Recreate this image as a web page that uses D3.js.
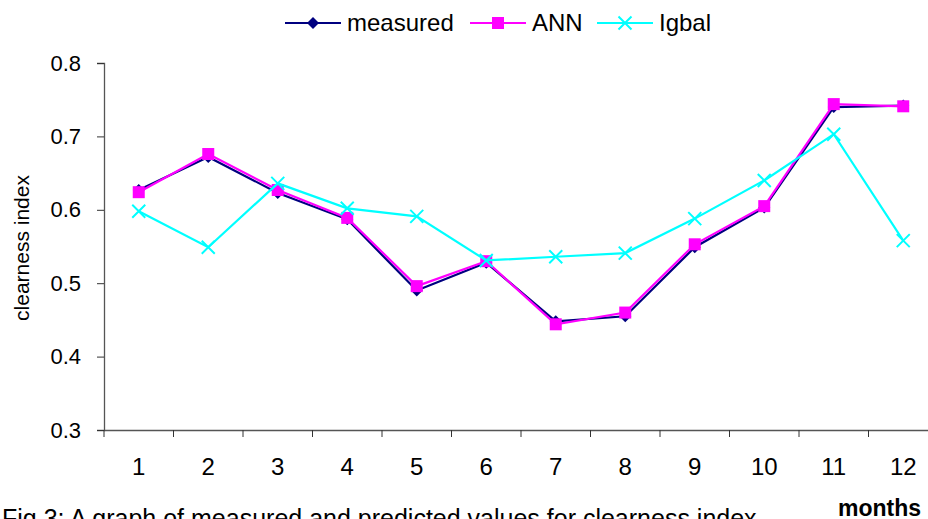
<!DOCTYPE html>
<html>
<head>
<meta charset="utf-8">
<script src="https://cdn.jsdelivr.net/npm/d3@7"></script>
<style>
body { margin: 0; background: #fff; }
svg { font-family: "Liberation Sans", Arial, sans-serif; }
</style>
</head>
<body>
<svg id="chart" width="928" height="519"></svg>
<script>
var months = ["1","2","3","4","5","6","7","8","9","10","11","12"];
var measured = [0.627,0.672,0.623,0.587,0.490,0.528,0.448,0.455,0.549,0.603,0.740,0.742];
var ann = [0.624,0.676,0.627,0.589,0.496,0.530,0.444,0.460,0.553,0.605,0.744,0.741];
var igbal = [0.598,0.549,0.636,0.602,0.591,0.531,0.536,0.541,0.588,0.640,0.703,0.558];
var yTicks = [0.3,0.4,0.5,0.6,0.7,0.8];

var svg = d3.select("#chart");

// plot runs off the right edge, like the original picture
var x = d3.scaleBand().domain(months).range([104, 938]);
var y = d3.scaleLinear().domain([0.3, 0.8]).range([430, 63]);

var series = [
	{name: "measured", values: measured, color: "#000080", shape: "diamond"},
	{name: "ANN", values: ann, color: "#FF00FF", shape: "square"},
	{name: "Igbal", values: igbal, color: "#00FFFF", shape: "cross"}
];

// axes
var yAxis = svg.append("g")
	.attr("transform", "translate(104,0)")
	.call(d3.axisLeft(y).tickValues(yTicks).tickSize(7).tickPadding(16).tickFormat(d3.format(".1f")));
yAxis.selectAll("text").style("font-size", "22px").attr("fill", "#000");

var xAxis = svg.append("g")
	.attr("transform", "translate(0,430)")
	.call(d3.axisBottom(x).tickSize(0).tickPadding(28));
xAxis.selectAll("text").style("font-size", "24px").attr("fill", "#000");
xAxis.selectAll(".tick line").remove();
svg.selectAll(".domain").attr("stroke", "#555").attr("stroke-width", 1.3);
yAxis.selectAll(".tick line").attr("stroke", "#333");

// category boundary ticks
svg.append("g").selectAll("line")
	.data(months)
	.enter().append("line")
	.attr("x1", function(d){ return x(d); })
	.attr("x2", function(d){ return x(d); })
	.attr("y1", 430).attr("y2", 437)
	.attr("stroke", "#333");

function cx(i){ return x(months[i]) + x.bandwidth() / 2; }

function drawMarker(g, shape, color, px, py, s){
	if(shape == "diamond"){
		g.append("path")
			.attr("d", "M" + px + "," + (py - s) + "L" + (px + s) + "," + py + "L" + px + "," + (py + s) + "L" + (px - s) + "," + py + "Z")
			.attr("fill", color);
	}else if(shape == "square"){
		g.append("rect")
			.attr("x", px - s).attr("y", py - s)
			.attr("width", 2 * s).attr("height", 2 * s)
			.attr("fill", color);
	}else{
		g.append("path")
			.attr("d", "M" + (px - s) + "," + (py - s) + "L" + (px + s) + "," + (py + s) + "M" + (px + s) + "," + (py - s) + "L" + (px - s) + "," + (py + s))
			.attr("stroke", color).attr("stroke-width", 2).attr("fill", "none");
	}
}

var line = d3.line()
	.x(function(d, i){ return cx(i); })
	.y(function(d){ return y(d); });

series.forEach(function(s){
	var g = svg.append("g");
	g.append("path")
		.datum(s.values)
		.attr("d", line)
		.attr("fill", "none")
		.attr("stroke", s.color)
		.attr("stroke-width", 2.2);
	s.values.forEach(function(v, i){
		drawMarker(g, s.shape, s.color, cx(i), y(v), s.shape == "cross" ? 6.5 : 6);
	});
});

// legend
var legendX = [285, 470, 597];
series.forEach(function(s, i){
	var g = svg.append("g");
	g.append("line")
		.attr("x1", legendX[i]).attr("x2", legendX[i] + 56)
		.attr("y1", 23).attr("y2", 23)
		.attr("stroke", s.color).attr("stroke-width", 2);
	drawMarker(g, s.shape, s.color, legendX[i] + 28, 23, s.shape == "cross" ? 6.5 : 6);
	g.append("text")
		.attr("x", legendX[i] + 62).attr("y", 31)
		.text(s.name)
		.style("font-size", "24px");
});

svg.append("text")
	.attr("transform", "translate(29,248) rotate(-90)")
	.attr("text-anchor", "middle")
	.style("font-size", "21px")
	.text("clearness index");

svg.append("text")
	.attr("x", 838).attr("y", 516)
	.style("font-size", "23px").style("font-weight", "bold")
	.text("months");

svg.append("text")
	.attr("x", 2).attr("y", 527)
	.style("font-size", "25px")
	.text("Fig 3: A graph of measured and predicted values for clearness index");
</script>
</body>
</html>
